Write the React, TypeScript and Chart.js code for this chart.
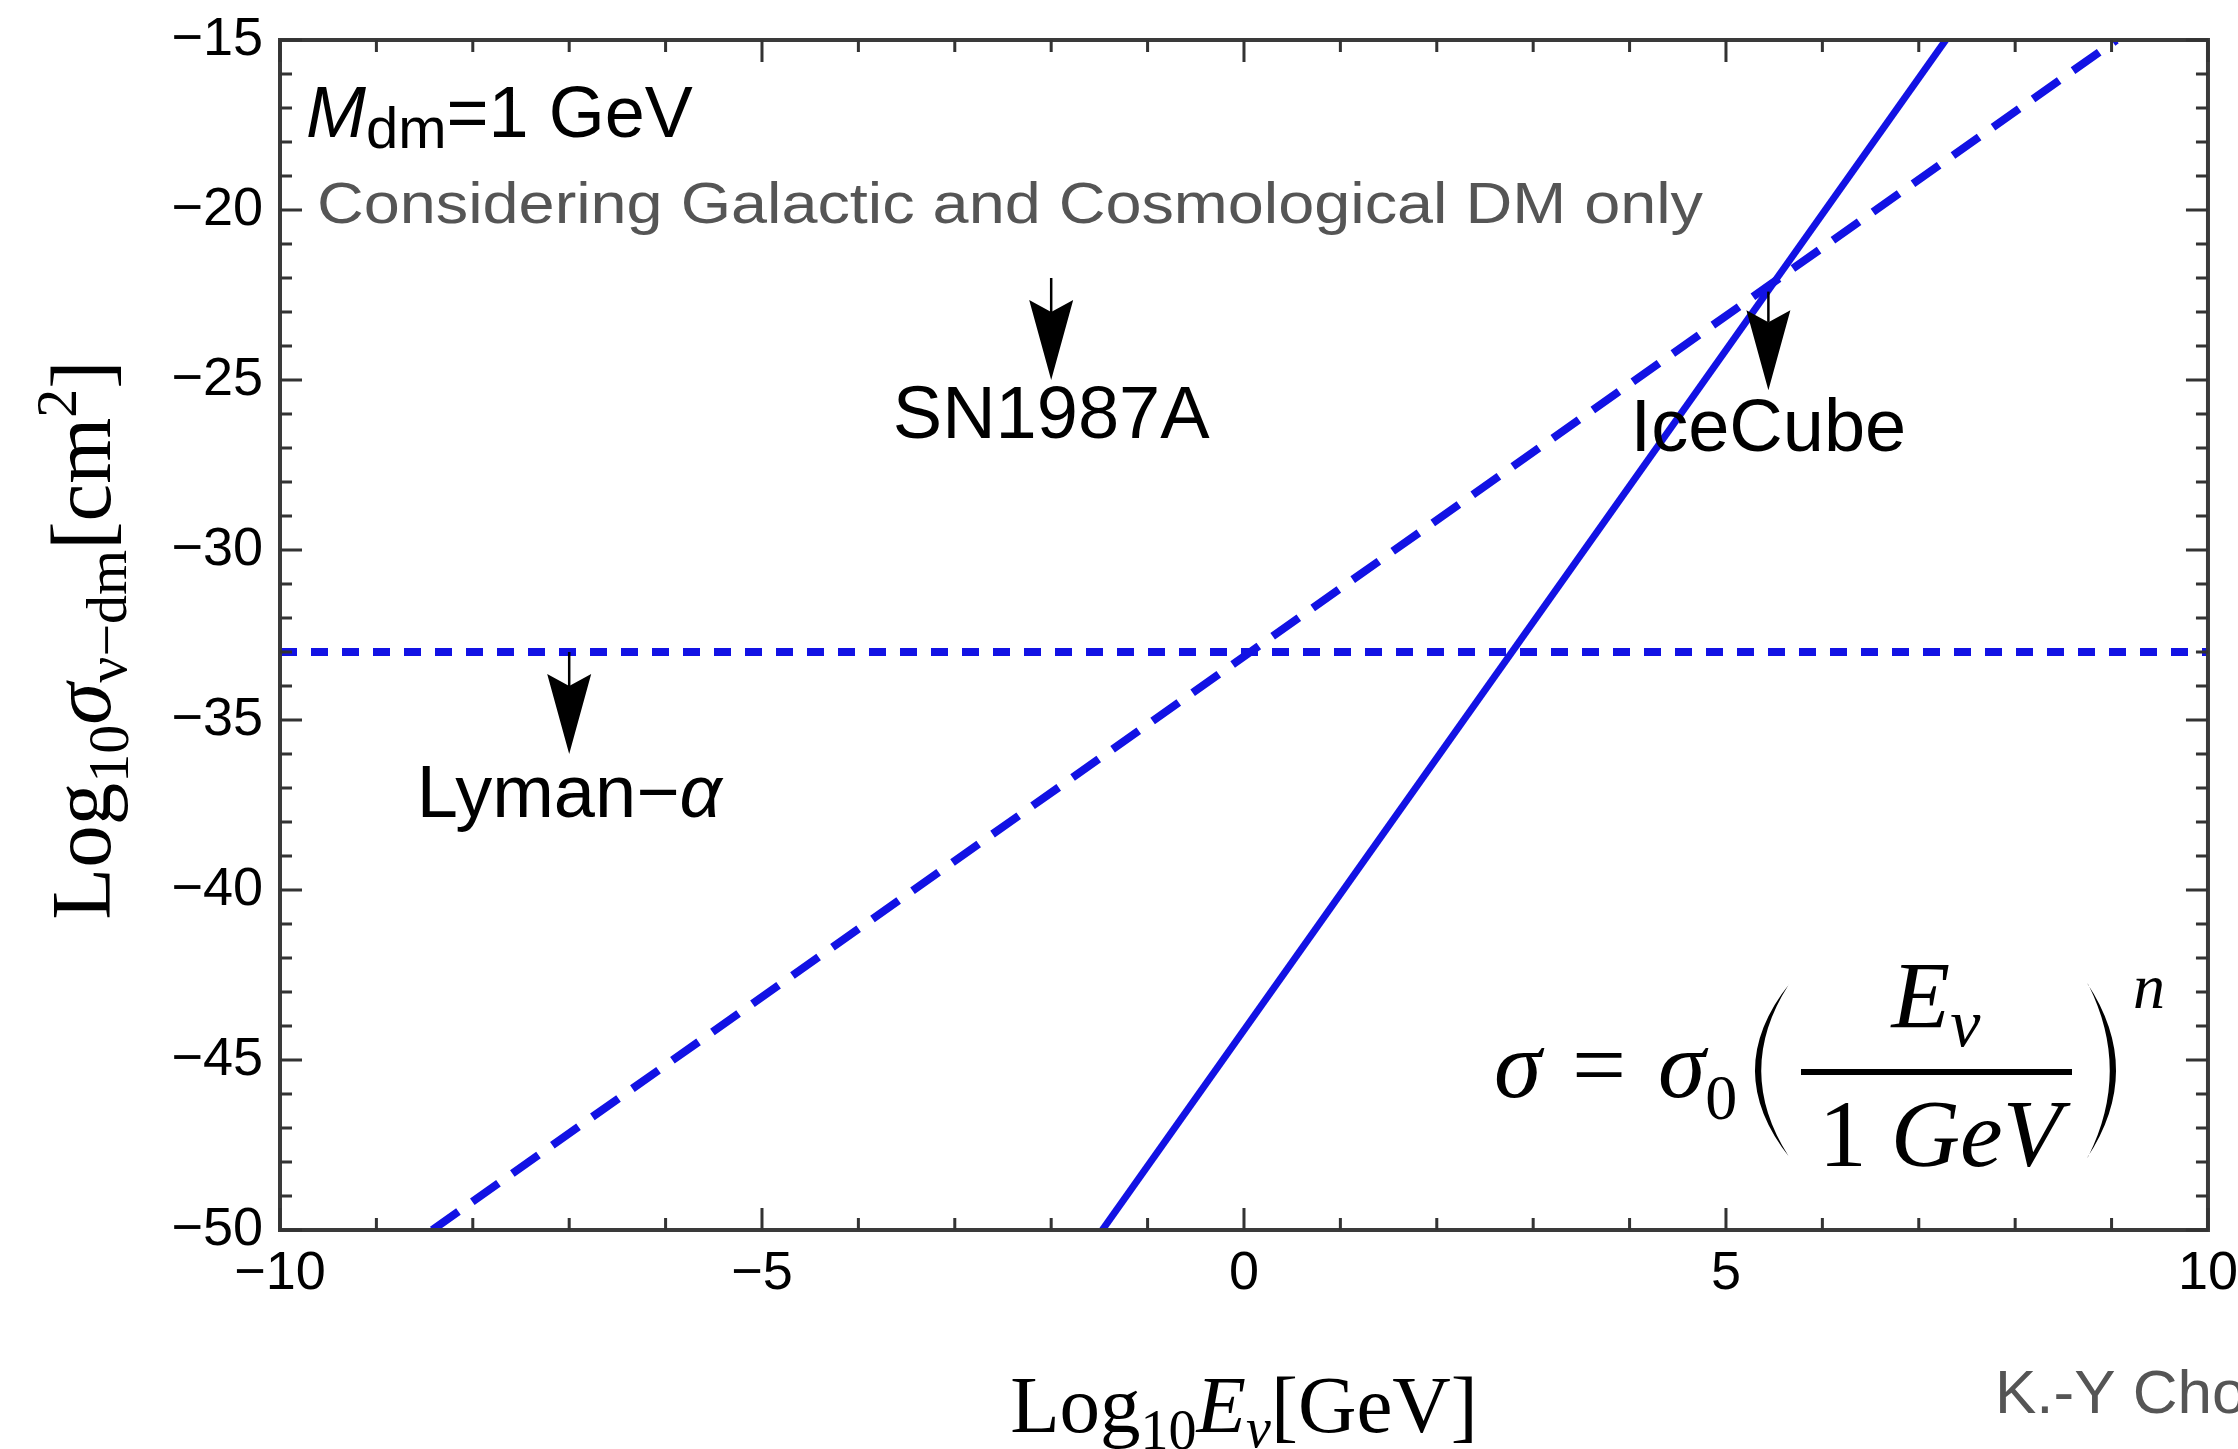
import React, { useEffect, useRef } from 'react';
import { Chart, registerables } from 'chart.js';

Chart.register(...registerables);

// ---------- data ----------
const X_TICKS = [-10, -5, 0, 5, 10];
const Y_TICKS = [-50, -45, -40, -35, -30, -25, -20, -15];
const X_MINOR = [-10, -9, -8, -7, -6, -5, -4, -3, -2, -1, 0, 1, 2, 3, 4, 5, 6, 7, 8, 9, 10];
const Y_MINOR = [-50, -49, -48, -47, -46, -45, -44, -43, -42, -41, -40, -39, -38, -37, -36, -35, -34, -33, -32, -31, -30, -29, -28, -27, -26, -25, -24, -23, -22, -21, -20, -19, -18, -17, -16, -15];

// n = 2 (dashed)
const N2_X = [-8.42, 9.05];
const N2_Y = [-50, -15];
// n = 4 (solid)
const N4_X = [-1.47, 7.28];
const N4_Y = [-50, -15];
// Lyman-alpha bound (dotted)
const LYA_X = [-10, 10];
const LYA_Y = [-33, -33];

// upper-bound arrows
const BOUND_NAMES = ['SN1987A', 'IceCube', 'Lyman\u2212\u03b1'];
const BOUND_X = [-2, 5.44, -7];
const BOUND_FROM = [-22.0, -22.4, -33];
const BOUND_TO = [-25.0, -25.3, -36.0];
const BOUND_LABEL_Y = [-26.7, -27.1, -37.85];

// ---------- styles ----------
const BLUE = 'rgb(18,18,228)';
const SANS = '"Liberation Sans", Arial, Helvetica, sans-serif';
const SERIF = '"Liberation Serif", "Times New Roman", Times, serif';
const W = 2238;
const H = 1449;

type Run = { t: string; font: string; dy?: number };

function runsWidth(ctx: CanvasRenderingContext2D, runs: Run[]) {
  let w = 0;
  for (const r of runs) {
    ctx.font = r.font;
    w += ctx.measureText(r.t).width;
  }
  return w;
}

function drawRuns(ctx: CanvasRenderingContext2D, runs: Run[], x: number, y: number, align: 'left' | 'center') {
  let cx = align === 'center' ? x - runsWidth(ctx, runs) / 2 : x;
  ctx.textAlign = 'left';
  ctx.textBaseline = 'alphabetic';
  for (const r of runs) {
    ctx.font = r.font;
    ctx.fillText(r.t, cx, y + (r.dy || 0));
    cx += ctx.measureText(r.t).width;
  }
}

function labelRuns(s: string, size: number): Run[] {
  const runs: Run[] = [];
  for (const ch of s) {
    const greek = /[\u0370-\u03ff]/.test(ch);
    const font = `${greek ? 'italic ' : ''}${size}px ${SANS}`;
    const last = runs[runs.length - 1];
    if (last && last.font === font) last.t += ch;
    else runs.push({ t: ch, font });
  }
  return runs;
}

function paren(ctx: CanvasRenderingContext2D, xEnd: number, yTop: number, yBot: number, bulge: number, thick: number) {
  const ym = (yTop + yBot) / 2;
  const sign = Math.sign(bulge);
  ctx.beginPath();
  ctx.moveTo(xEnd, yTop);
  ctx.quadraticCurveTo(xEnd + 2 * bulge, ym, xEnd, yBot);
  ctx.lineTo(xEnd + sign * 1.5, yBot - 2);
  ctx.quadraticCurveTo(xEnd + 2 * (bulge - sign * thick), ym, xEnd + sign * 1.5, yTop + 2);
  ctx.closePath();
  ctx.fill();
}

const fmt = (v: number | string) => String(v).replace('-', '\u2212');

const decor = {
  id: 'decor',
  afterDatasetsDraw(chart: any) {
    const ctx: CanvasRenderingContext2D = chart.ctx;
    const xs = chart.scales.x;
    const ys = chart.scales.y;
    const { left, right, top, bottom } = chart.chartArea;

    // arrows
    ctx.save();
    ctx.fillStyle = '#000';
    ctx.strokeStyle = '#000';
    const headLen = 80;
    const hw = 22;
    const notch = 12;
    BOUND_X.forEach((bx, i) => {
      const px = xs.getPixelForValue(bx);
      const y0 = ys.getPixelForValue(BOUND_FROM[i]);
      const tip = ys.getPixelForValue(BOUND_TO[i]);
      ctx.lineWidth = 2.5;
      ctx.beginPath();
      ctx.moveTo(px, y0);
      ctx.lineTo(px, tip - headLen + notch);
      ctx.stroke();
      ctx.beginPath();
      ctx.moveTo(px, tip);
      ctx.lineTo(px - hw, tip - headLen);
      ctx.lineTo(px, tip - headLen + notch);
      ctx.lineTo(px + hw, tip - headLen);
      ctx.closePath();
      ctx.fill();
      drawRuns(ctx, labelRuns(BOUND_NAMES[i], 74), px, ys.getPixelForValue(BOUND_LABEL_Y[i]), 'center');
    });
    ctx.restore();

    // frame
    ctx.save();
    ctx.strokeStyle = '#3a3a3a';
    ctx.lineWidth = 4;
    ctx.strokeRect(left, top, right - left, bottom - top);
    // ticks
    ctx.lineWidth = 3;
    ctx.strokeStyle = '#333';
    ctx.beginPath();
    X_MINOR.forEach((v) => {
      const p = xs.getPixelForValue(v);
      const len = v % 5 === 0 ? 22 : 12;
      ctx.moveTo(p, bottom);
      ctx.lineTo(p, bottom - len);
      ctx.moveTo(p, top);
      ctx.lineTo(p, top + len);
    });
    Y_MINOR.forEach((v) => {
      const p = ys.getPixelForValue(v);
      const len = v % 5 === 0 ? 22 : 12;
      ctx.moveTo(left, p);
      ctx.lineTo(left + len, p);
      ctx.moveTo(right, p);
      ctx.lineTo(right - len, p);
    });
    ctx.stroke();
    ctx.restore();
  },
  afterDraw(chart: any) {
    const ctx: CanvasRenderingContext2D = chart.ctx;
    const { left, right } = chart.chartArea;
    ctx.save();
    ctx.fillStyle = '#000';

    // M_dm = 1 GeV
    drawRuns(ctx, [
      { t: 'M', font: `italic 72px ${SANS}` },
      { t: 'dm', font: `58px ${SANS}`, dy: 11 },
      { t: '=1 GeV', font: `72px ${SANS}` },
    ], left + 26, 137, 'left');

    // Considering ... (gray, fitted to width)
    ctx.fillStyle = '#555';
    ctx.font = `58px ${SANS}`;
    const txt = 'Considering Galactic and Cosmological DM only';
    const mw = ctx.measureText(txt).width;
    ctx.save();
    ctx.translate(left + 37, 223);
    ctx.scale(1386 / mw, 1);
    ctx.textAlign = 'left';
    ctx.textBaseline = 'alphabetic';
    ctx.fillText(txt, 0, 0);
    ctx.restore();

    // author credit
    ctx.font = `62px ${SANS}`;
    ctx.textAlign = 'left';
    ctx.fillText('K.-Y Cho', 1995, 1413);

    // axis titles
    ctx.fillStyle = '#000';
    drawRuns(ctx, [
      { t: 'Log', font: `81px ${SERIF}` },
      { t: '10', font: `56px ${SERIF}`, dy: 17 },
      { t: 'E', font: `italic 81px ${SERIF}` },
      { t: '\u03bd', font: `italic 56px ${SERIF}`, dy: 15 },
      { t: '[GeV]', font: `81px ${SERIF}` },
    ], (left + right) / 2, 1432, 'center');

    ctx.save();
    ctx.translate(110, 640);
    ctx.rotate(-Math.PI / 2);
    drawRuns(ctx, [
      { t: 'Log', font: `85px ${SERIF}` },
      { t: '10', font: `58px ${SERIF}`, dy: 18 },
      { t: '\u03c3', font: `italic 85px ${SERIF}` },
      { t: '\u03bd\u2212dm', font: `58px ${SERIF}`, dy: 16 },
      { t: '[cm', font: `85px ${SERIF}` },
      { t: '2', font: `58px ${SERIF}`, dy: -34 },
      { t: ']', font: `85px ${SERIF}` },
    ], 0, 0, 'center');
    ctx.restore();

    // formula sigma = sigma_0 (E_nu / 1 GeV)^n
    const it96 = `italic 96px ${SERIF}`;
    const up96 = `96px ${SERIF}`;
    drawRuns(ctx, [{ t: '\u03c3', font: it96 }], 1494, 1097, 'left');
    drawRuns(ctx, [{ t: '=', font: up96 }], 1572, 1097, 'left');
    drawRuns(ctx, [{ t: '\u03c3', font: it96 }, { t: '0', font: `64px ${SERIF}`, dy: 22 }], 1658, 1097, 'left');
    paren(ctx, 1790, 983, 1158, -35, 7);
    ctx.fillRect(1801, 1069, 271, 6);
    drawRuns(ctx, [{ t: 'E', font: it96 }, { t: '\u03bd', font: `italic 68px ${SERIF}`, dy: 18 }], 1936, 1028, 'center');
    drawRuns(ctx, [{ t: '1 ', font: up96 }, { t: 'GeV', font: it96 }], 1940, 1166, 'center');
    paren(ctx, 2087, 983, 1158, 29, 7);
    drawRuns(ctx, [{ t: 'n', font: `italic 64px ${SERIF}` }], 2133, 1008, 'left');

    ctx.restore();
  },
};

const pts = (xs: number[], ys: number[]) => xs.map((x, i) => ({ x, y: ys[i] }));

export default function App() {
  const ref = useRef<HTMLCanvasElement>(null);
  useEffect(() => {
    const canvas = ref.current!;
    const chart = new Chart(canvas, {
      type: 'scatter',
      data: {
        datasets: [
          {
            label: 'Lyman-alpha',
            data: pts(LYA_X, LYA_Y),
            showLine: true,
            borderColor: BLUE,
            borderWidth: 8,
            borderDash: [17, 14],
            pointRadius: 0,
            clip: 0,
          },
          {
            label: 'n=2',
            data: pts(N2_X, N2_Y),
            showLine: true,
            borderColor: BLUE,
            borderWidth: 8,
            borderDash: [32, 17],
            pointRadius: 0,
            clip: 0,
          },
          {
            label: 'n=4',
            data: pts(N4_X, N4_Y),
            showLine: true,
            borderColor: BLUE,
            borderWidth: 7,
            pointRadius: 0,
            clip: 0,
          },
        ],
      } as any,
      options: {
        responsive: false,
        animation: false,
        devicePixelRatio: 1,
        layout: { padding: { left: 0, right: 30, top: 40, bottom: 0 } },
        plugins: { legend: { display: false }, tooltip: { enabled: false } },
        scales: {
          x: {
            type: 'linear',
            min: -10,
            max: 10,
            position: 'bottom',
            afterBuildTicks: (s: any) => {
              s.ticks = X_TICKS.map((v) => ({ value: v }));
            },
            afterFit: (s: any) => {
              s.height = 219;
            },
            grid: { display: false, drawTicks: false },
            border: { display: false },
            ticks: {
              autoSkip: false,
              maxRotation: 0,
              padding: 0,
              color: '#000',
              font: { family: SANS, size: 54, lineHeight: 1.65 },
              callback: (v: any) => fmt(v),
            },
          },
          y: {
            type: 'linear',
            min: -50,
            max: -15,
            position: 'left',
            afterBuildTicks: (s: any) => {
              s.ticks = Y_TICKS.map((v) => ({ value: v }));
            },
            afterFit: (s: any) => {
              s.width = 280;
            },
            grid: { display: false, drawTicks: false },
            border: { display: false },
            ticks: {
              autoSkip: false,
              padding: 17,
              color: '#000',
              font: { family: SANS, size: 54, lineHeight: 0.4 },
              callback: (v: any) => fmt(v),
            },
          },
        },
      } as any,
      plugins: [decor],
    });
    return () => chart.destroy();
  }, []);
  return (
    <canvas
      ref={ref}
      width={W}
      height={H}
      style={{ position: 'fixed', left: 0, top: 0, width: `${W}px`, height: `${H}px`, display: 'block', background: '#fff' }}
    />
  );
}
